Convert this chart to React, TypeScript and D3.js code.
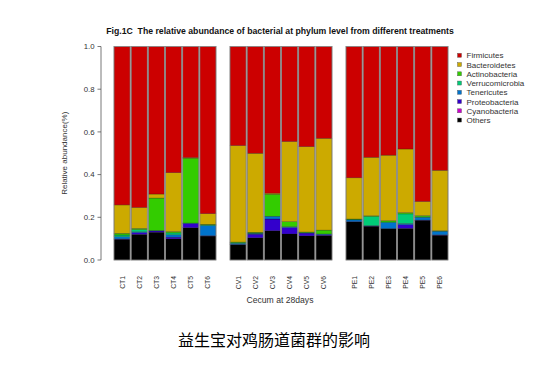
import React from "react";
import * as d3 from "d3";

const groups = ["CT", "CV", "PE"];
const samples = [
  "CT1", "CT2", "CT3", "CT4", "CT5", "CT6",
  "CV1", "CV2", "CV3", "CV4", "CV5", "CV6",
  "PE1", "PE2", "PE3", "PE4", "PE5", "PE6",
];
// bottom-up stacking order
const others = [0.097, 0.12, 0.13, 0.099, 0.151, 0.112, 0.072, 0.104, 0.137, 0.122, 0.113, 0.115, 0.178, 0.158, 0.146, 0.148, 0.186, 0.116];
const cyanobacteria = [0, 0, 0, 0, 0, 0, 0, 0, 0, 0, 0, 0, 0, 0, 0, 0, 0, 0];
const proteobacteria = [0.002, 0.008, 0.006, 0.008, 0.02, 0.002, 0.001, 0.017, 0.055, 0.03, 0.013, 0.004, 0.002, 0.001, 0.001, 0.017, 0.001, 0.002];
const tenericutes = [0.01, 0.004, 0.002, 0.011, 0.002, 0.047, 0.005, 0.004, 0.013, 0.004, 0.002, 0.003, 0.008, 0.002, 0.028, 0.006, 0.013, 0.017];
const verrucomicrobia = [0.008, 0.01, 0, 0.009, 0, 0.003, 0.003, 0.001, 0, 0, 0, 0, 0.002, 0.043, 0.003, 0.045, 0.002, 0];
const actinobacteria = [0.008, 0.006, 0.152, 0.006, 0.304, 0.003, 0.003, 0.004, 0.103, 0.024, 0.003, 0.018, 0.002, 0.003, 0.006, 0.006, 0.006, 0.002];
const bacteroidetes = [0.133, 0.098, 0.019, 0.276, 0.003, 0.05, 0.452, 0.37, 0.005, 0.375, 0.4, 0.43, 0.193, 0.274, 0.307, 0.298, 0.066, 0.283];
const firmicutes = [0.742, 0.754, 0.691, 0.591, 0.52, 0.783, 0.464, 0.5, 0.687, 0.445, 0.469, 0.43, 0.615, 0.519, 0.509, 0.48, 0.726, 0.58];

const phyla = ["Others", "Cyanobacteria", "Proteobacteria", "Tenericutes", "Verrucomicrobia", "Actinobacteria", "Bacteroidetes", "Firmicutes"];
const seriesValues = [others, cyanobacteria, proteobacteria, tenericutes, verrucomicrobia, actinobacteria, bacteroidetes, firmicutes];
const colors = ["#000000", "#CC00CC", "#3300CC", "#0073CC", "#00CC77", "#33CC00", "#CCAA00", "#CC0000"];
const legendOrder = ["Firmicutes", "Bacteroidetes", "Actinobacteria", "Verrucomicrobia", "Tenericutes", "Proteobacteria", "Cyanobacteria", "Others"];
const yTicks = [0, 0.2, 0.4, 0.6, 0.8, 1.0];

export default function App() {
  const W = 559, H = 368;
  const y = d3.scaleLinear().domain([0, 1]).range([260, 46.5]);
  const gx = d3.scaleBand<string>().domain(groups).range([114, 448]).paddingInner(14 / 116).paddingOuter(0);
  const bx = d3.scaleBand<number>().domain(d3.range(6)).range([0, gx.bandwidth()]).paddingInner(0.06).paddingOuter(0);
  const xOf = (i: number) => (gx(groups[Math.floor(i / 6)]) as number) + (bx(i % 6) as number);
  const color = d3.scaleOrdinal<string, string>().domain(phyla).range(colors);

  const rows = samples.map((s, i) => {
    const r: any = { sample: s };
    phyla.forEach((p, k) => (r[p] = seriesValues[k][i]));
    return r;
  });
  const stacked = d3.stack().keys(phyla)(rows);
  const font = "'Liberation Sans', Arial, sans-serif";

  return (
    <svg width={W} height={H} style={{ position: "absolute", left: 0, top: 0, background: "#fff" }}>
      <rect width={W} height={H} fill="#fff" />
      <text x={280} y={34} textAnchor="middle" fontFamily={font} fontWeight="bold" fontSize={8.7} fill="#111">
        {"Fig.1C\u00a0\u00a0The relative abundance of bacterial at phylum level from different treatments"}
      </text>
      {stacked.map((layer) => (
        <g key={layer.key} fill={color(layer.key)}>
          {layer.map((d, i) => {
            const h = y(d[0]) - y(d[1]);
            if (h <= 0) return null;
            return (
              <rect key={i} x={xOf(i)} y={y(d[1])} width={bx.bandwidth()} height={h}
                stroke="rgba(0,0,0,0.45)" strokeWidth={0.5} />
            );
          })}
        </g>
      ))}
      {samples.map((s, i) => (
        <rect key={s} x={xOf(i)} y={y(1)} width={bx.bandwidth()} height={y(0) - y(1)}
          fill="none" stroke="#8a8a8a" strokeWidth={0.8} />
      ))}
      {/* y axis */}
      <line x1={101} x2={101} y1={y(0)} y2={y(1)} stroke="#555" strokeWidth={0.8} />
      {yTicks.map((t) => (
        <g key={t}>
          <line x1={97.5} x2={101} y1={y(t)} y2={y(t)} stroke="#555" strokeWidth={0.8} />
          <text x={94.5} y={y(t) + 2.7} textAnchor="end" fontFamily={font} fontSize={7.8} fill="#333">
            {t.toFixed(1)}
          </text>
        </g>
      ))}
      <text transform={`translate(67,${y(0.5)}) rotate(-90)`} textAnchor="middle" fontFamily={font} fontSize={8} fill="#333">
        Relative abundance(%)
      </text>
      {samples.map((s, i) => (
        <text key={s} transform={`translate(${xOf(i) + bx.bandwidth() / 2 + 2.5},276) rotate(-90)`}
          textAnchor="end" fontFamily={font} fontSize={6.8} fill="#333">
          {s}
        </text>
      ))}
      <text x={280} y={303} textAnchor="middle" fontFamily={font} fontSize={8.6} fill="#333">
        Cecum at 28days
      </text>
      {legendOrder.map((p, k) => (
        <g key={p}>
          <rect x={457.5} y={53.3 + k * 9.25} width={4} height={4} fill={color(p)} stroke="#555" strokeWidth={0.4} />
          <text x={466.5} y={58.3 + k * 9.25} fontFamily={font} fontSize={8} fill="#333">{p}</text>
        </g>
      ))}
      <text x={274} y={346} textAnchor="middle" fontFamily="'Noto Sans CJK SC', sans-serif" fontSize={16} fill="#000">
        益生宝对鸡肠道菌群的影响
      </text>
    </svg>
  );
}
